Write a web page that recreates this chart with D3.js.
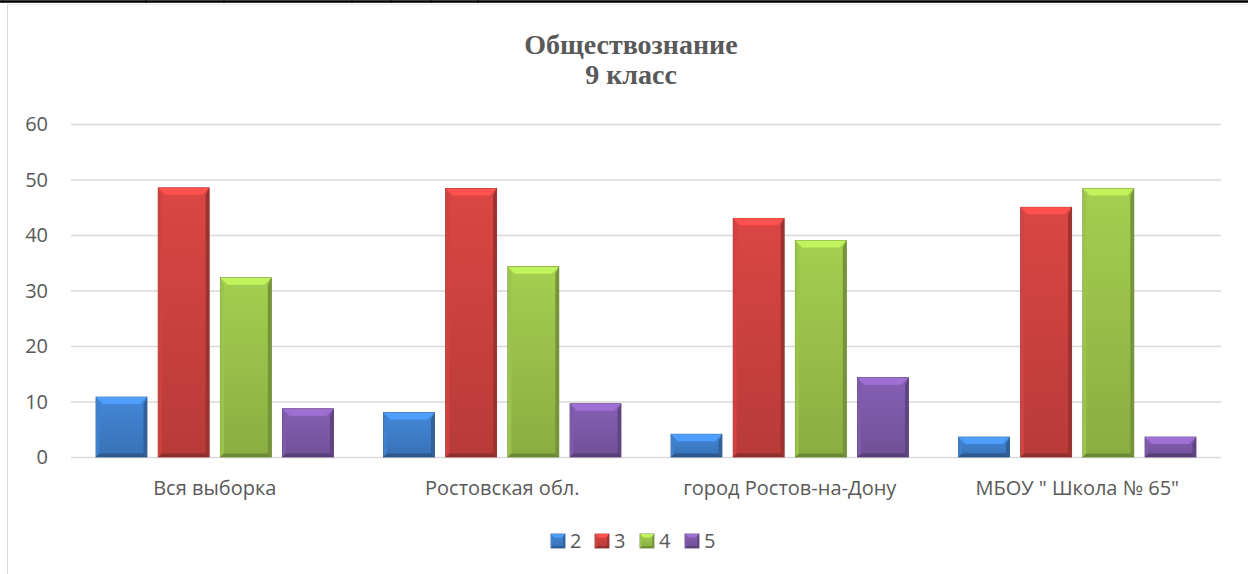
<!DOCTYPE html>
<html>
<head>
<meta charset="utf-8">
<script src="https://cdn.jsdelivr.net/npm/d3@7"></script>
<style>
  body { margin: 0; background: #fff; }
  text { font-family: "Open Sans", "Liberation Sans", sans-serif; }
</style>
</head>
<body>
<div id="chart"></div>
<script>
// Данные из диаграммы
var categories = ["Вся выборка", "Ростовская обл.", "город Ростов-на-Дону", "МБОУ \" Школа № 65\""];
var seriesNames = ["2", "3", "4", "5"];
var values2 = [10.8, 8.0, 4.1, 3.6];
var values3 = [48.5, 48.4, 43.0, 45.0];
var values4 = [32.3, 34.3, 39.0, 48.4];
var values5 = [8.7, 9.6, 14.3, 3.6];
var yTicks = [0, 10, 20, 30, 40, 50, 60];

var colors = ["#3d7cc6", "#c8403d", "#96bd48", "#7b57a5"];
var seriesValues = [values2, values3, values4, values5];

var W = 1248, H = 574;
var margin = { top: 124, right: 27, bottom: 117, left: 71 },
  width = W - margin.left - margin.right,
  height = H - margin.top - margin.bottom;

var svg = d3.select("#chart").append("svg")
  .attr("width", W).attr("height", H);

var defs = svg.append("defs");
colors.forEach(function(c, i) {
  var g = defs.append("linearGradient").attr("id", "grad" + i)
    .attr("x1", "0").attr("x2", "0").attr("y1", "0").attr("y2", "1");
  g.append("stop").attr("offset", "0%").attr("stop-color", d3.color(c).brighter(0.25));
  g.append("stop").attr("offset", "100%").attr("stop-color", d3.color(c).darker(0.25));
});

// рамка таблицы сверху
svg.append("line").attr("x1", 0).attr("x2", W).attr("y1", 1.5).attr("y2", 1.5)
  .attr("stroke", "#000").attr("stroke-width", 2.5);
[3, 146, 224, 352, 391, 431, 478].forEach(function(x) {
  svg.append("line").attr("x1", x).attr("x2", x).attr("y1", 0).attr("y2", 3)
    .attr("stroke", "#000").attr("stroke-width", 1);
});
// рамка области диаграммы
svg.append("line").attr("x1", 7.5).attr("x2", 7.5).attr("y1", 4).attr("y2", H)
  .attr("stroke", "#d9d9d9");
svg.append("line").attr("x1", 7).attr("x2", W).attr("y1", 4.5).attr("y2", 4.5)
  .attr("stroke", "#ececec");

// Заголовок (две строки)
["Обществознание", "9 класс"].forEach(function(t, i) {
  svg.append("text")
    .attr("x", 631).attr("y", 54 + i * 30).attr("text-anchor", "middle")
    .style("font-family", "'Liberation Serif', 'Times New Roman', serif")
    .style("font-weight", "bold").style("font-size", "28px").attr("fill", "#595959")
    .text(t);
});

var g = svg.append("g").attr("transform", "translate(" + margin.left + "," + margin.top + ")");

var x0 = d3.scaleBand().domain(categories).range([0, width]).paddingInner(0).paddingOuter(0);
var x1 = d3.scaleBand().domain(seriesNames).range([25, x0.bandwidth() - 25]).paddingInner(0.18).paddingOuter(0);
var y = d3.scaleLinear().domain([0, 60]).range([height, 0]);

// сетка
g.append("g")
  .call(d3.axisLeft(y).tickValues(yTicks).tickSize(-width).tickFormat(""))
  .call(function(a) {
    a.select(".domain").remove();
    a.selectAll("line").attr("stroke", "#d9d9d9").attr("stroke-width", 1.5);
  });

// подписи оси Y
g.selectAll(".ylab").data(yTicks).enter().append("text")
  .attr("x", -23).attr("y", function(d) { return y(d); })
  .attr("dy", "0.36em").attr("text-anchor", "end")
  .attr("font-size", "20px").attr("fill", "#595959")
  .text(function(d) { return d; });

// Объёмный столбик
function bevelBar(sel, bx, by, bw, bh, ci) {
  var c = d3.color(colors[ci]);
  var b = Math.min(7, bh / 2, bw / 4);
  sel.append("rect").attr("x", bx).attr("y", by).attr("width", bw).attr("height", bh)
    .attr("fill", "url(#grad" + ci + ")").attr("stroke", c.darker(1)).attr("stroke-width", 0.8);
  // верх
  sel.append("polygon").attr("points", [[bx, by], [bx + bw, by], [bx + bw - b, by + b], [bx + b, by + b]].join(" "))
    .attr("fill", c.brighter(0.7));
  // левый край
  sel.append("polygon").attr("points", [[bx, by], [bx + b * 0.5, by + b], [bx + b * 0.5, by + bh - b * 0.5], [bx, by + bh]].join(" "))
    .attr("fill", c.brighter(0.1));
  // правый край
  sel.append("polygon").attr("points", [[bx + bw, by], [bx + bw - b * 0.5, by + b], [bx + bw - b * 0.5, by + bh - b * 0.5], [bx + bw, by + bh]].join(" "))
    .attr("fill", c.darker(0.7));
  // низ
  sel.append("polygon").attr("points", [[bx, by + bh], [bx + bw, by + bh], [bx + bw - b * 0.5, by + bh - b * 0.5], [bx + b * 0.5, by + bh - b * 0.5]].join(" "))
    .attr("fill", c.darker(0.9));
}

categories.forEach(function(cat, i) {
  seriesNames.forEach(function(s, j) {
    var v = seriesValues[j][i];
    var bx = x0(cat) + x1(s);
    var by = y(v);
    bevelBar(g.append("g"), bx, by, x1.bandwidth(), height - by, j);
  });
});

// подписи категорий
g.selectAll(".xlab").data(categories).enter().append("text")
  .attr("x", function(d) { return x0(d) + x0.bandwidth() / 2; })
  .attr("y", height + 38)
  .attr("text-anchor", "middle").attr("font-size", "20px").attr("fill", "#595959")
  .text(function(d) { return d; });

// Легенда
var legendX = [551, 595, 640, 685];
var lg = svg.append("g");
seriesNames.forEach(function(s, j) {
  var lx = legendX[j];
  bevelBar(lg.append("g"), lx, 534, 14, 14, j);
  lg.append("text").attr("x", lx + 19).attr("y", 548)
    .attr("font-size", "20px").attr("fill", "#595959").text(s);
});
</script>
</body>
</html>
